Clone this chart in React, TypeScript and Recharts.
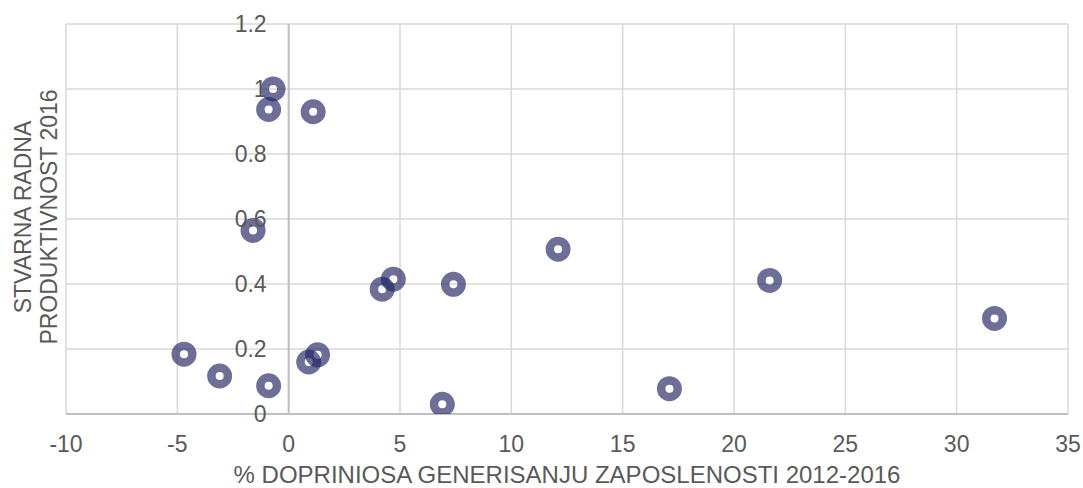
import React from "react";
import {
  ScatterChart,
  Scatter,
  XAxis,
  YAxis,
  CartesianGrid,
  ReferenceLine,
  ReferenceDot,
} from "recharts";

const xValues = [-0.7, -0.9, 1.1, -1.6, 12.1, 4.7, 4.2, 7.4, 21.6, 31.7, -4.7, -3.1, -0.9, 0.9, 1.3, 6.9, 17.1];
const yValues = [1.0, 0.937, 0.93, 0.565, 0.507, 0.415, 0.384, 0.399, 0.411, 0.294, 0.184, 0.117, 0.087, 0.16, 0.182, 0.03, 0.078];
const xTicks = [-10, -5, 0, 5, 10, 15, 20, 25, 30, 35];
const yTicks = [0, 0.2, 0.4, 0.6, 0.8, 1, 1.2];
const xTitle = "% DOPRINIOSA GENERISANJU ZAPOSLENOSTI 2012-2016";
const yTitleLines = ["STVARNA RADNA", "PRODUKTIVNOST 2016"];

const data = xValues.map((x, i) => ({ x, y: yValues[i] }));

const FONT = "'Liberation Sans', Arial, sans-serif";
const TXT = "#595959";

const Donut = (props: any) => {
  const { cx, cy } = props;
  return (
    <circle
      cx={cx}
      cy={cy}
      r={8.25}
      fill="none"
      stroke="#1F2263"
      strokeOpacity={0.65}
      strokeWidth={8.5}
    />
  );
};

const EmptyTick = () => <g />;

export default function App() {
  return (
    <div style={{ position: "absolute", left: 0, top: 0, width: 1083, height: 488, background: "#fff" }}>
      <ScatterChart
        width={1083}
        height={488}
        margin={{ top: 24, right: 15, left: 66, bottom: 9 }}
      >
        <CartesianGrid stroke="#D9D9D9" strokeWidth={1.5} horizontal vertical />
        <XAxis
          type="number"
          dataKey="x"
          domain={[-10, 35]}
          ticks={xTicks}
          interval={0}
          height={65}
          tickLine={false}
          tickMargin={16}
          axisLine={{ stroke: "#BFBFBF", strokeWidth: 2 }}
          tick={{ fill: TXT, fontSize: 23, fontFamily: FONT }}
          allowDataOverflow
        />
        <YAxis
          type="number"
          dataKey="y"
          domain={[0, 1.2]}
          ticks={yTicks}
          interval={0}
          width={0}
          tick={<EmptyTick />}
          tickLine={false}
          axisLine={false}
          allowDataOverflow
        />
        <ReferenceLine x={0} stroke="#BFBFBF" strokeWidth={2} />
        {yTicks.map((t) => (
          <ReferenceDot
            key={t}
            x={0}
            y={t}
            r={0.01}
            fill="none"
            stroke="none"
            label={{
              value: String(t),
              position: "left",
              offset: 22,
              fill: TXT,
              fontSize: 23,
              fontFamily: FONT,
            }}
          />
        ))}
        <Scatter data={data} shape={<Donut />} isAnimationActive={false} />
      </ScatterChart>
      <svg
        width={1083}
        height={488}
        style={{ position: "absolute", left: 0, top: 0, pointerEvents: "none" }}
      >
        <text
          x={567}
          y={483}
          textAnchor="middle"
          fill={TXT}
          fontSize={24}
          fontFamily={FONT}
        >
          {xTitle}
        </text>
        <g transform="translate(0,217) rotate(-90)">
          <text x={0} y={31} textAnchor="middle" fill={TXT} fontSize={23} fontFamily={FONT}>
            {yTitleLines[0]}
          </text>
          <text x={0} y={57} textAnchor="middle" fill={TXT} fontSize={23} fontFamily={FONT}>
            {yTitleLines[1]}
          </text>
        </g>
      </svg>
    </div>
  );
}
